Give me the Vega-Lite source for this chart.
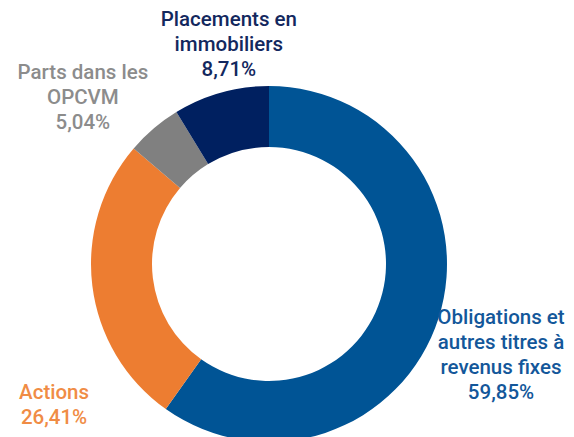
{
  "$schema": "https://vega.github.io/schema/vega-lite/v6.json",
  "autosize": "none",
  "padding": {"left": 0, "top": 0, "right": 36, "bottom": 0},
  "width": 538,
  "height": 528,
  "background": "#ffffff",
  "config": {"view": {"stroke": null}},
  "data": {
    "values": [
      {"categorie": "Obligations et autres titres à revenus fixes", "label": "Obligations et\nautres titres à\nrevenus fixes\n59,85%", "value": 59.85, "ordre": 1},
      {"categorie": "Actions", "label": "Actions\n26,41%", "value": 26.41, "ordre": 2},
      {"categorie": "Parts dans les OPCVM", "label": "Parts dans les\nOPCVM\n5,04%", "value": 5.04, "ordre": 3},
      {"categorie": "Placements en immobiliers", "label": "Placements en\nimmobiliers\n8,71%", "value": 8.71, "ordre": 4}
    ]
  },
  "layer": [
    {
      "mark": {"type": "arc", "radius": 178, "radius2": 117},
      "encoding": {
        "theta": {"field": "value", "type": "quantitative", "stack": true},
        "order": {"field": "ordre", "type": "quantitative", "sort": "ascending"},
        "color": {
          "field": "categorie",
          "type": "nominal",
          "legend": null,
          "scale": {
            "domain": ["Obligations et autres titres à revenus fixes", "Actions", "Parts dans les OPCVM", "Placements en immobiliers"],
            "range": ["#005495", "#ED7D31", "#808080", "#002060"]
          }
        }
      }
    },
    {
      "transform": [
        {"stack": "value", "groupby": [], "sort": [{"field": "ordre", "order": "ascending"}], "as": ["v0", "v1"]},
        {"filter": "datum.ordre == 1"}
      ],
      "mark": {"type": "text", "radius": 238.2, "thetaOffset": 1.7995, "lineBreak": "\n", "lineHeight": 25, "font": "Roboto", "fontWeight": 500, "fontSize": 20.5, "align": "center", "baseline": "middle", "color": "#13579A"},
      "encoding": {
        "theta": {"field": "v0", "type": "quantitative"},
        "text": {"field": "label", "type": "nominal"}
      }
    },
    {
      "transform": [
        {"stack": "value", "groupby": [], "sort": [{"field": "ordre", "order": "ascending"}], "as": ["v0", "v1"]},
        {"filter": "datum.ordre == 2"}
      ],
      "mark": {"type": "text", "radius": 250.7, "thetaOffset": 0.4115, "lineBreak": "\n", "lineHeight": 25, "font": "Roboto", "fontWeight": 500, "fontSize": 20.5, "align": "center", "baseline": "middle", "color": "#F08C45"},
      "encoding": {
        "theta": {"field": "v0", "type": "quantitative"},
        "text": {"field": "label", "type": "nominal"}
      }
    },
    {
      "transform": [
        {"stack": "value", "groupby": [], "sort": [{"field": "ordre", "order": "ascending"}], "as": ["v0", "v1"]},
        {"filter": "datum.ordre == 3"}
      ],
      "mark": {"type": "text", "radius": 266.6, "thetaOffset": 0.0911, "lineBreak": "\n", "lineHeight": 25, "font": "Roboto", "fontWeight": 500, "fontSize": 20.5, "align": "center", "baseline": "middle", "color": "#8C8C8C"},
      "encoding": {
        "theta": {"field": "v0", "type": "quantitative"},
        "text": {"field": "label", "type": "nominal"}
      }
    },
    {
      "transform": [
        {"stack": "value", "groupby": [], "sort": [{"field": "ordre", "order": "ascending"}], "as": ["v0", "v1"]},
        {"filter": "datum.ordre == 4"}
      ],
      "mark": {"type": "text", "radius": 247.3, "thetaOffset": 0.3841, "lineBreak": "\n", "lineHeight": 25, "font": "Roboto", "fontWeight": 500, "fontSize": 20.5, "align": "center", "baseline": "middle", "color": "#13285E"},
      "encoding": {
        "theta": {"field": "v0", "type": "quantitative"},
        "text": {"field": "label", "type": "nominal"}
      }
    }
  ]
}
